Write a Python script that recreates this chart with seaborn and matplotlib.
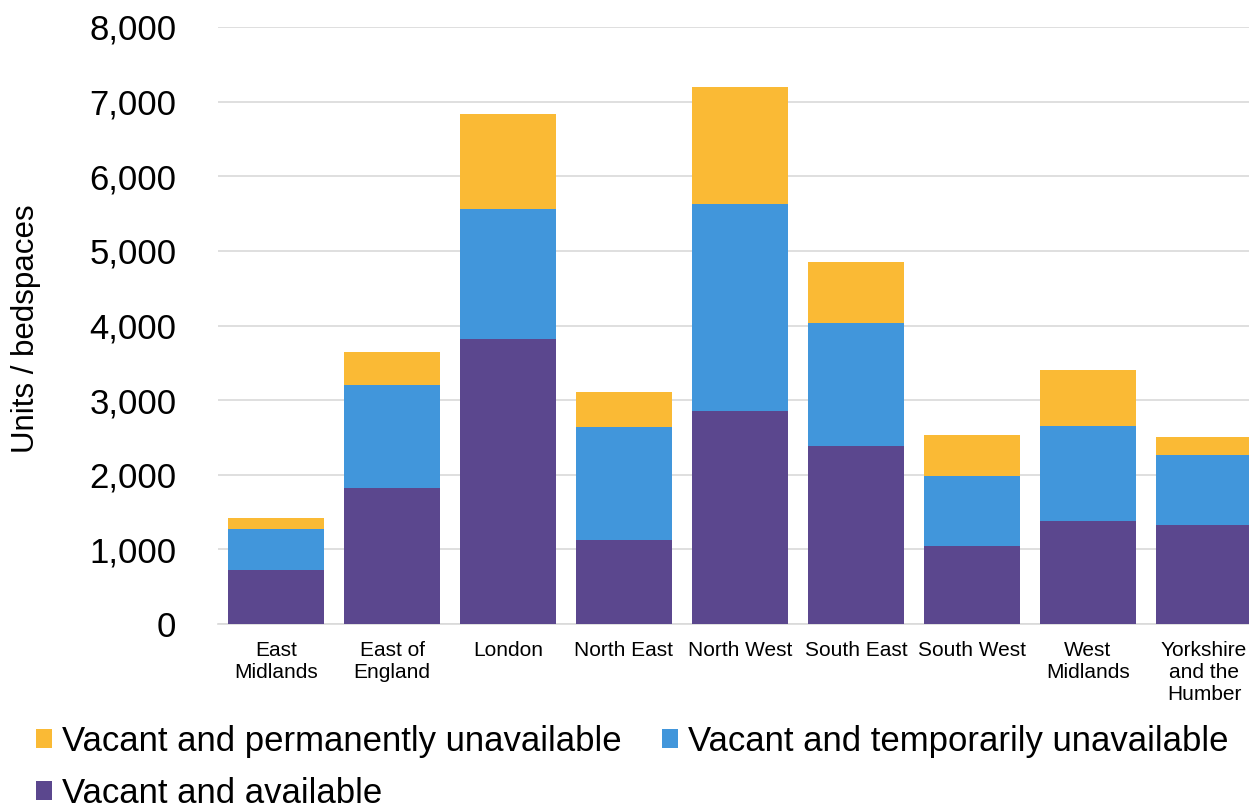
import matplotlib
matplotlib.use("Agg")
import matplotlib.pyplot as plt
from matplotlib.patches import Patch
import seaborn as sns
import numpy as np
import pandas as pd

# Vacant stock by region (units / bedspaces)
regions = [
    "East\nMidlands", "East of\nEngland", "London", "North East", "North West",
    "South East", "South West", "West\nMidlands", "Yorkshire\nand the\nHumber",
]
vacant_available = [721, 1822, 3825, 1126, 2856, 2387, 1049, 1384, 1331]
vacant_temporarily = [556, 1382, 1733, 1514, 2775, 1650, 929, 1272, 938]
vacant_permanently = [150, 443, 1280, 467, 1560, 815, 554, 752, 232]

series_labels = [
    "Vacant and available",
    "Vacant and temporarily unavailable",
    "Vacant and permanently unavailable",
]
series_colors = ["#5B478E", "#4196DB", "#FABA35"]

sns.set_theme(style="white")
plt.rcParams["font.family"] = ["Liberation Sans", "DejaVu Sans"]
plt.rcParams["text.color"] = "#000000"

avail = np.array(vacant_available)
temp = np.array(vacant_temporarily)
perm = np.array(vacant_permanently)
df = pd.DataFrame({
    "region": regions,
    "level1": avail,
    "level2": avail + temp,
    "level3": avail + temp + perm,
})

W, H = 1249, 811
fig = plt.figure(figsize=(W / 100, H / 100), dpi=100)
ax = fig.add_axes([218 / W, 1 - 624 / H, 1044 / W, (624 - 27) / H])

# Stacked bars: draw the cumulative totals from the top layer down
for col, color in zip(["level3", "level2", "level1"], series_colors[::-1]):
    sns.barplot(data=df, x="region", y=col, color=color, width=0.836,
                saturation=1, ax=ax, zorder=3, linewidth=0)

ax.set_ylim(0, 8000)
ax.set_xlim(-0.5, len(regions) - 0.5)
ax.set_yticks(np.arange(0, 8001, 1000))
ax.set_yticklabels([f"{v:,}" for v in range(0, 8001, 1000)], fontsize=25)
ax.tick_params(axis="y", length=0, pad=30, labelcolor="#000000")
ax.tick_params(axis="x", length=0, pad=12, labelsize=15, labelcolor="#000000")
ax.grid(axis="y", color="#D9D9D9", linewidth=1.2, zorder=0)
ax.set_axisbelow(True)
for side in ["top", "right", "left"]:
    ax.spines[side].set_visible(False)
ax.spines["bottom"].set_color("#D9D9D9")
ax.spines["bottom"].set_linewidth(1.2)
ax.set_xlabel("")
ax.set_ylabel("")

fig.text(26 / W, 1 - 329 / H, "Units / bedspaces", rotation=90,
         ha="center", va="center", fontsize=22.5, color="#000000")

handles = {lab: Patch(facecolor=c, edgecolor="none")
           for lab, c in zip(series_labels, series_colors)}
order = [series_labels[2], series_labels[0], series_labels[1]]
fig.legend([handles[k] for k in order], order, ncol=2, frameon=False,
           loc="upper left", bbox_to_anchor=(36 / W, 1 - 725 / H),
           fontsize=25, handlelength=0.46, handleheight=0.46,
           handletextpad=0.3, columnspacing=1.15, labelspacing=0.55,
           borderpad=0, borderaxespad=0, labelcolor="#000000")

fig.savefig("out.png", dpi=100)
